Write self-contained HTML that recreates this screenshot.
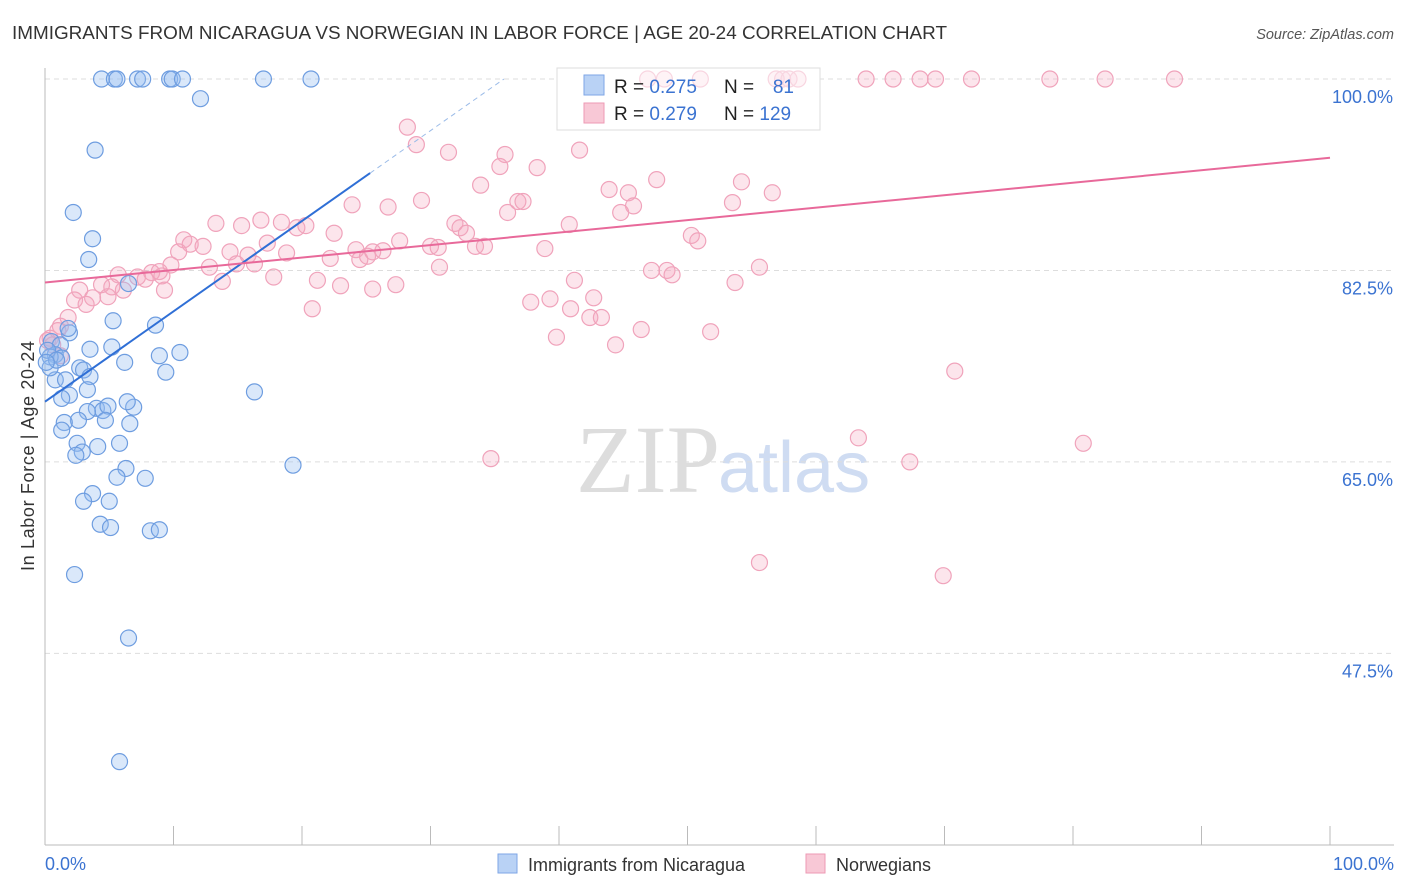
<!DOCTYPE html>
<html><head><meta charset="utf-8"><style>
body{margin:0;background:#fff;font-family:"Liberation Sans",sans-serif}
svg{display:block}
</style></head><body>
<svg id="c" width="1406" height="892">
<text x="12" y="39" font-size="18" fill="#333" textLength="935" lengthAdjust="spacingAndGlyphs">IMMIGRANTS FROM NICARAGUA VS NORWEGIAN IN LABOR FORCE | AGE 20-24 CORRELATION CHART</text>
<text x="1394" y="39" font-size="14.5" fill="#555" font-style="italic" text-anchor="end">Source: ZipAtlas.com</text>
<text x="720" y="492" font-size="96" fill="#ddd" font-family="Liberation Serif,serif" text-anchor="end">ZIP</text>
<text x="718" y="492" font-size="72" fill="#cfdcf2">atlas</text>
<g id="grid"></g>
<g>
<rect x="557" y="68" width="263" height="62" fill="#fff" stroke="#ddd"/>
</g>
<g id="pts"></g>
<g id="lines"></g>
<g>
<rect x="557" y="68" width="263" height="62" fill="rgba(255,255,255,0.55)" stroke="#ddd"/>
<rect x="584" y="75" width="20" height="20" fill="#b9d2f5" stroke="#7ea6e6"/>
<rect x="584" y="103" width="20" height="20" fill="#f8c8d6" stroke="#ee9ab4"/>
<text x="614" y="93" font-size="19" fill="#222">R = <tspan fill="#3b73d1">0.275</tspan></text>
<text x="724" y="93" font-size="19" fill="#222">N = </text><text x="794" y="93" font-size="19" fill="#3b73d1" text-anchor="end">81</text>
<text x="614" y="120" font-size="19" fill="#222">R = <tspan fill="#3b73d1">0.279</tspan></text>
<text x="724" y="120" font-size="19" fill="#222">N = <tspan fill="#3b73d1">129</tspan></text>
</g>
<text transform="translate(34,456) rotate(-90)" font-size="18" fill="#333" text-anchor="middle" textLength="230">In Labor Force | Age 20-24</text>
<text x="45" y="870" font-size="18" fill="#3b73d1">0.0%</text>
<text x="1394" y="870" font-size="18" fill="#3b73d1" text-anchor="end">100.0%</text>
<g>
<rect x="498" y="854" width="19" height="19" fill="#b9d2f5" stroke="#7ea6e6"/>
<text x="528" y="871" font-size="18" fill="#333">Immigrants from Nicaragua</text>
<rect x="806" y="854" width="19" height="19" fill="#f8c8d6" stroke="#ee9ab4"/>
<text x="836" y="871" font-size="18" fill="#333">Norwegians</text>
</g>
</svg>
<script>
const yTicks=[100,82.5,65,47.5];
const blueX=[4.4,5.4,5.6,7.2,7.6,9.7,9.9,10.7,17.0,20.7,12.1,3.9,2.2,3.7,3.4,6.5,5.3,8.6,1.9,1.8,0.5,1.2,0.8,1.3,0.4,3.5,5.2,8.9,10.5,6.2,9.4,2.7,3.0,3.5,0.8,1.6,1.9,1.3,3.3,16.3,4.0,4.5,4.9,6.9,6.4,3.3,2.6,4.7,1.5,6.6,1.3,2.5,4.1,5.8,2.9,2.4,19.3,6.3,5.6,7.8,3.7,3.0,5.0,4.3,5.1,8.2,8.9,2.3,6.5,5.8,0.2,0.4,0.9,0.1];
const blueY=[100,100,100,100,100,100,100,100,100,100,98.2,93.5,87.8,85.4,83.5,81.3,77.9,77.5,76.8,77.2,76.0,75.7,74.8,74.5,74.6,75.3,75.5,74.7,75.0,74.1,73.2,73.6,73.4,72.8,72.5,72.5,71.1,70.8,71.6,71.4,69.9,69.7,70.1,70.0,70.5,69.6,68.8,68.8,68.6,68.5,67.9,66.7,66.4,66.7,65.9,65.6,64.7,64.4,63.6,63.5,62.1,61.4,61.4,59.3,59.0,58.7,58.8,54.7,48.9,37.6,75.2,73.6,74.3,74.1];
const pinkX=[46.9,48.2,51.0,56.9,57.4,57.9,58.6,63.9,66.0,68.1,69.3,72.1,78.2,82.5,87.9,28.2,41.6,31.4,35.8,28.9,35.4,38.3,33.9,47.6,54.2,43.9,45.4,56.6,29.3,23.9,26.7,36.8,37.2,36.0,53.5,45.8,44.8,31.9,13.3,16.8,15.3,18.4,19.6,20.3,32.3,32.8,40.8,22.5,10.8,11.3,12.3,10.4,50.3,50.8,17.3,30.0,30.6,33.5,34.2,27.6,24.2,26.3,38.9,14.4,15.8,18.8,22.2,24.5,25.1,25.5,9.8,12.8,14.9,16.3,30.7,47.2,48.4,48.8,55.6,5.7,7.2,8.3,8.9,9.1,7.8,6.1,5.2,4.4,2.7,9.3,13.8,17.8,21.2,23.0,25.5,27.3,41.2,53.7,3.7,4.9,2.3,3.2,37.8,39.3,42.7,20.8,40.9,42.4,43.3,1.8,1.2,1.0,0.4,0.2,0.6,1.2,46.4,51.8,39.8,44.4,70.8,63.3,80.8,34.7,67.3,55.6,69.9];
const pinkY=[100,100,100,100,100,100,100,100,100,100,100,100,100,100,100,95.6,93.5,93.3,93.1,94.0,92.0,91.9,90.3,90.8,90.6,89.9,89.6,89.6,88.9,88.5,88.3,88.8,88.8,87.8,88.7,88.4,87.8,86.8,86.8,87.1,86.6,86.9,86.4,86.6,86.4,85.9,86.7,85.9,85.3,84.9,84.7,84.2,85.7,85.2,85.0,84.7,84.6,84.7,84.7,85.2,84.4,84.3,84.5,84.2,83.9,84.1,83.6,83.5,83.8,84.2,83.0,82.8,83.1,83.1,82.8,82.5,82.5,82.1,82.8,82.1,81.9,82.3,82.4,82.0,81.7,80.7,81.0,81.2,80.7,80.7,81.5,81.9,81.6,81.1,80.8,81.2,81.6,81.4,80.0,80.1,79.8,79.4,79.6,79.9,80.0,79.0,79.0,78.2,78.2,78.2,77.4,77.0,76.3,76.1,75.7,74.7,77.1,76.9,76.4,75.7,73.3,67.2,66.7,65.3,65.0,55.8,54.6];
const blueFit=[70.5,0.826];
const pinkFit=[81.4,0.114];
const NS='http://www.w3.org/2000/svg';
const X=v=>45+v*12.85, Y=v=>79+(100-v)*10.94;
function mk(t,a,p){const e=document.createElementNS(NS,t);for(const k in a)e.setAttribute(k,a[k]);p.appendChild(e);return e;}
const grid=document.getElementById('grid');
yTicks.forEach(t=>{
 const l=mk('line',{x1:45,x2:1394,y1:Y(t),y2:Y(t),stroke:'#ddd','stroke-dasharray':'5,4'},grid);
 
 
 const tx=mk('text',{x:1393,y:Y(t)+24,'font-size':18,fill:'#3b73d1','text-anchor':'end'},grid);
 tx.textContent=t.toFixed(1)+'%';
 
 
});
mk('line',{x1:45,x2:45,y1:68,y2:845,stroke:'#bbb'},grid);
mk('line',{x1:45,x2:1394,y1:845,y2:845,stroke:'#bbb'},grid);
for(let i=0;i<=10;i++){const k=mk('line',{x1:X(i*10),x2:X(i*10),y1:826,y2:845,stroke:'#bbb'},grid);}
const pts=document.getElementById('pts');
pinkX.forEach((v,i)=>{const c=mk('circle',{cx:X(v),cy:Y(pinkY[i]),r:8,fill:'rgba(244,168,192,0.3)',stroke:'#f0a3bb','stroke-width':1.2},pts);
 
 });
blueX.forEach((v,i)=>{const c=mk('circle',{cx:X(v),cy:Y(blueY[i]),r:8,fill:'rgba(150,190,240,0.35)',stroke:'#6e9de0','stroke-width':1.2},pts);
 
 });
const L=document.getElementById('lines');
const bx2=25.3,bx3=(100-blueFit[0])/blueFit[1];
let a=mk('line',{x1:X(0),y1:Y(blueFit[0]),x2:X(bx2),y2:Y(blueFit[0]+blueFit[1]*bx2),stroke:'#2f6fd6','stroke-width':2},L);


a=mk('line',{x1:X(bx2),y1:Y(blueFit[0]+blueFit[1]*bx2),x2:X(bx3),y2:Y(100),stroke:'#9bbbe8','stroke-width':1,'stroke-dasharray':'5,4'},L);


a=mk('line',{x1:X(0),y1:Y(pinkFit[0]),x2:X(100),y2:Y(pinkFit[0]+pinkFit[1]*100),stroke:'#e8699a','stroke-width':2},L);


</script>
</body></html>
